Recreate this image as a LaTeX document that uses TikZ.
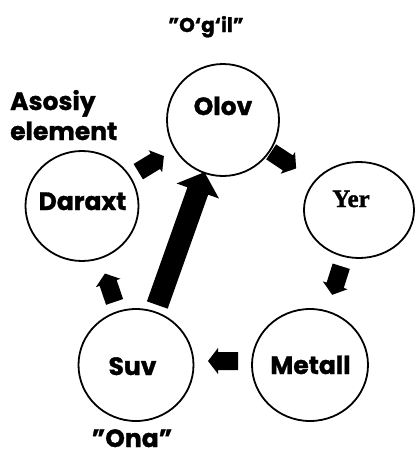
\documentclass[tikz,border=0pt]{standalone}
\usepackage{fontspec}
\setmainfont{Poppins}[BoldFeatures={FakeBold=1.2}]
\newfontfamily\serifb{Liberation Serif}[BoldFeatures={FakeBold=1.2}]
\usetikzlibrary{shapes.geometric,calc}
\begin{document}
\begin{tikzpicture}[x=1pt,y=-1pt,
  ring/.style={ellipse, draw=black, line width=1.8pt, inner sep=0pt},
  lab/.style={font=\bfseries\fontsize{25}{30}\selectfont, anchor=base, inner sep=0pt},
  small/.style={font=\bfseries\fontsize{20}{24}\selectfont, anchor=base, inner sep=0pt}]
\useasboundingbox (0,0) rectangle (418,455);
% circles
\node[ring, minimum width=112pt, minimum height=112pt] (o) at (223,120) {};
\node[ring, minimum width=110pt, minimum height=96pt] (y) at (359,210) {};
\node[ring, minimum width=113pt, minimum height=110pt] (d) at (82,206) {};
\node[ring, minimum width=115pt, minimum height=112pt] (s) at (136,365) {};
\node[ring, minimum width=116pt, minimum height=112pt] (m) at (310,365) {};
% texts
\node[lab] (ot) at (223,115) {Olov};
\node[lab, font=\serifb\bfseries\fontsize{25}{30}\selectfont] (yt) at (351,207) {Yer};
\node[lab] (dt) at (82.5,210) {Daraxt};
\node[lab] (st) at (132.5,375) {Suv};
\node[lab] (mt) at (310.5,374) {Metall};
\node[small] (og) at (206,32) {"O‘g‘il"};
\node[lab] (ona) at (132,447) {"Ona"};
\node[lab, anchor=base west] (as1) at (10,110) {Asosiy};
\node[lab, anchor=base west] (as2) at (10,140) {element};
% block arrows (from node to node)
\fill let \p1=($(o.center)-(d.center)$), \n1={atan2(\y1,\x1)} in
  [shift={($(d.center)!0.49!(o.center)$)}, rotate=\n1]
  (-15,-9) -- (5,-9) -- (5,-13) -- (15,0) -- (5,13) -- (5,9) -- (-15,9) -- cycle;
\fill let \p1=($(y.center)-(o.center)$), \n1={atan2(\y1,\x1)} in
  [shift={($(o.center)!0.446!(y.center)$)}, rotate=\n1]
  (-15,-9) -- (5,-9) -- (5,-13) -- (15,0) -- (5,13) -- (5,9) -- (-15,9) -- cycle;
\fill let \p1=($(m.center)-(y.center)$), \n1={atan2(\y1,\x1)} in
  [shift={($(y.center)!0.455!(m.center)$)}, rotate=\n1]
  (-15,-9) -- (5,-9) -- (5,-13) -- (15,0) -- (5,13) -- (5,9) -- (-15,9) -- cycle;
\fill let \p1=($(s.center)-(m.center)$), \n1={atan2(\y1,\x1)} in
  [shift={($(m.center)!0.5!(s.center)+(0,-4)$)}, rotate=\n1]
  (-15,-9) -- (5,-9) -- (5,-13) -- (15,0) -- (5,13) -- (5,9) -- (-15,9) -- cycle;
\fill let \p1=($(d.center)-(s.center)$), \n1={atan2(\y1,\x1)} in
  [shift={($(s.center)!0.486!(d.center)$)}, rotate=\n1]
  (-15,-9) -- (5,-9) -- (5,-13) -- (15,0) -- (5,13) -- (5,9) -- (-15,9) -- cycle;
% big arrow Suv -> Olov
\fill let \p1=($(o.center)-(s.center)$), \n1={atan2(\y1,\x1)} in
  [shift={($(s.center)!0.516!(o.center)$)}, rotate=\n1]
  (-70.5,-11) -- (50.5,-11) -- (50.5,-22.5) -- (70.5,0) -- (50.5,22.5) -- (50.5,11) -- (-70.5,11) -- cycle;
\end{tikzpicture}
\end{document}
